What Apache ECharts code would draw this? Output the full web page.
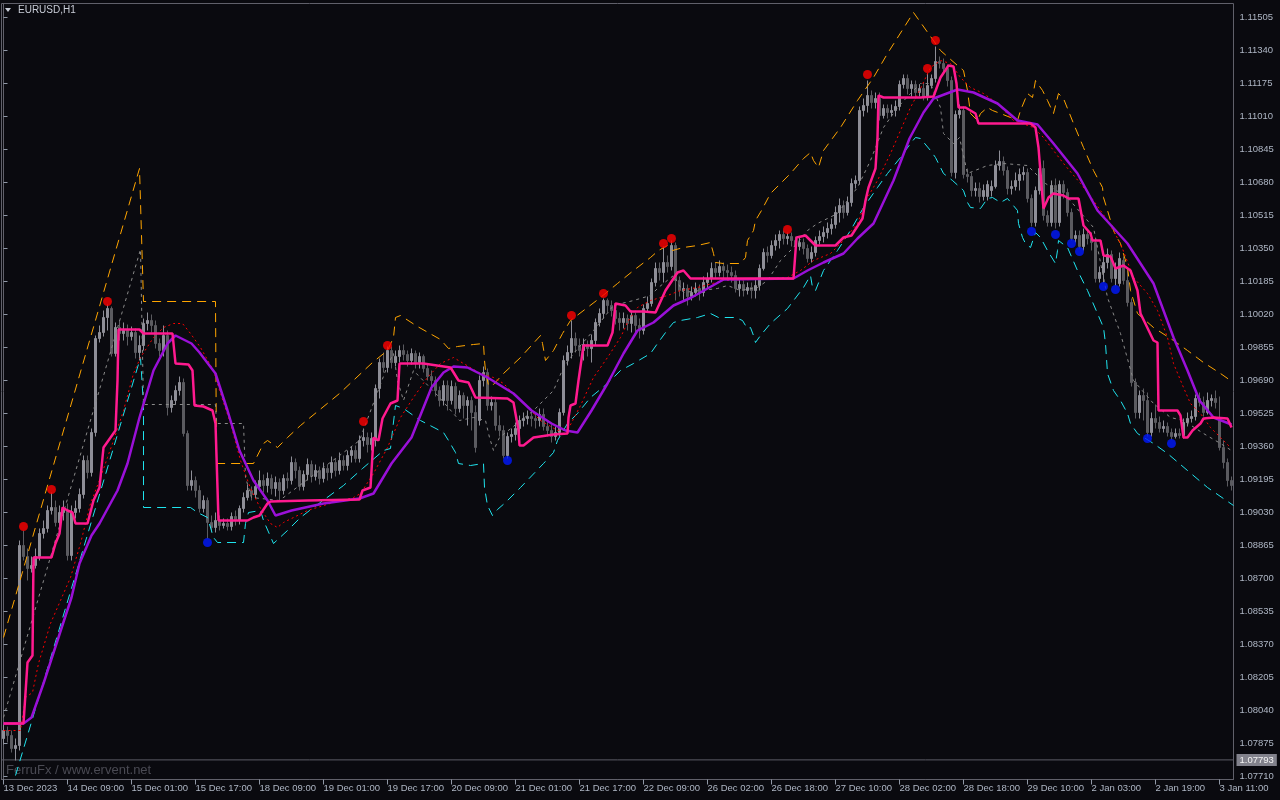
<!DOCTYPE html>
<html><head><meta charset="utf-8">
<script src="https://cdn.jsdelivr.net/npm/echarts@6/dist/echarts.min.js"></script>
<style>html,body{margin:0;padding:0;background:#0a0a0f;}#c{width:1280px;height:800px;}</style>
</head><body><div id="c"></div>
<script>
const symbolName = 'EURUSD,H1';
const watermark = 'FerruFx / www.ervent.net';
const bidPrice = 1.07793;
const tickLabels = ['13 Dec 2023','14 Dec 09:00','15 Dec 01:00','15 Dec 17:00','18 Dec 09:00','19 Dec 01:00','19 Dec 17:00','20 Dec 09:00','21 Dec 01:00','21 Dec 17:00','22 Dec 09:00','26 Dec 02:00','26 Dec 18:00','27 Dec 10:00','28 Dec 02:00','28 Dec 18:00','29 Dec 10:00','2 Jan 03:00','2 Jan 19:00','3 Jan 11:00'];
const yTicks = [1.07710,1.07875,1.08040,1.08205,1.08370,1.08535,1.08700,1.08865,1.09030,1.09195,1.09360,1.09525,1.09690,1.09855,1.10020,1.10185,1.10350,1.10515,1.10680,1.10845,1.11010,1.11175,1.11340,1.11505];

const opens = [
1.07900,1.07940,1.07915,1.07850,1.07865,1.08865,1.08810,1.08750,1.08765,1.08810,
1.08925,1.08950,1.09040,1.09055,1.08980,1.09030,1.09040,1.08815,1.09030,1.09050,
1.09120,1.09290,1.09230,1.09430,1.09900,1.09930,1.10005,1.10050,1.09825,1.09955,
1.09925,1.09940,1.09910,1.09930,1.09830,1.09865,1.09975,1.09990,1.09965,1.09875,
1.09840,1.09915,1.09555,1.09590,1.09640,1.09680,1.09425,1.09165,1.09190,1.09140,
1.09050,1.09090,1.08980,1.08955,1.08990,1.08965,1.08975,1.08960,1.09010,1.08990,
1.09050,1.09105,1.09140,1.09120,1.09160,1.09190,1.09165,1.09200,1.09150,1.09180,
1.09140,1.09200,1.09190,1.09280,1.09240,1.09160,1.09220,1.09270,1.09210,1.09240,
1.09200,1.09250,1.09230,1.09280,1.09240,1.09290,1.09265,1.09315,1.09340,1.09300,
1.09390,1.09405,1.09370,1.09390,1.09650,1.09780,1.09755,1.09840,1.09780,1.09810,
1.09840,1.09820,1.09790,1.09825,1.09780,1.09810,1.09750,1.09710,1.09690,1.09640,
1.09590,1.09665,1.09590,1.09660,1.09550,1.09615,1.09565,1.09590,1.09530,1.09490,
1.09690,1.09730,1.09565,1.09580,1.09465,1.09440,1.09315,1.09410,1.09420,1.09450,
1.09490,1.09500,1.09510,1.09500,1.09490,1.09520,1.09460,1.09440,1.09410,1.09430,
1.09530,1.09790,1.09830,1.09900,1.09865,1.09840,1.09870,1.09850,1.09890,1.09980,
1.10025,1.10090,1.10065,1.10040,1.10000,1.09980,1.10000,1.09975,1.10015,1.09965,
1.09940,1.10050,1.10075,1.10180,1.10250,1.10230,1.10280,1.10260,1.10365,1.10190,
1.10140,1.10150,1.10110,1.10130,1.10150,1.10130,1.10180,1.10200,1.10250,1.10230,
1.10260,1.10240,1.10230,1.10215,1.10150,1.10170,1.10140,1.10155,1.10140,1.10165,
1.10250,1.10330,1.10315,1.10365,1.10390,1.10420,1.10400,1.10410,1.10390,1.10360,
1.10380,1.10350,1.10300,1.10330,1.10390,1.10410,1.10430,1.10450,1.10470,1.10530,
1.10565,1.10530,1.10580,1.10675,1.10690,1.11040,1.11065,1.11115,1.11080,1.11100,
1.11015,1.11050,1.11030,1.11040,1.11060,1.11170,1.11200,1.11150,1.11170,1.11130,
1.11150,1.11110,1.11165,1.11200,1.11285,1.11275,1.11250,1.11190,1.10730,1.11020,
1.11040,1.10720,1.10710,1.10640,1.10650,1.10610,1.10610,1.10640,1.10660,1.10765,
1.10785,1.10740,1.10650,1.10660,1.10690,1.10720,1.10730,1.10600,1.10480,1.10640,
1.10750,1.10515,1.10480,1.10665,1.10480,1.10670,1.10630,1.10530,1.10400,1.10415,
1.10360,1.10420,1.10400,1.10380,1.10200,1.10230,1.10280,1.10320,1.10200,1.10175,
1.10290,1.10190,1.10080,1.09680,1.09530,1.09615,1.09590,1.09430,1.09500,1.09480,
1.09450,1.09460,1.09430,1.09410,1.09425,1.09415,1.09480,1.09500,1.09510,1.09600,
1.09580,1.09530,1.09590,1.09600,1.09490,1.09355,1.09280,1.09190];

const highs = [
1.07970,1.07960,1.07940,1.07900,1.08890,1.08940,1.08850,1.08810,1.08850,1.08950,
1.08990,1.09065,1.09130,1.09090,1.09065,1.09090,1.09075,1.09065,1.09090,1.09150,
1.09315,1.09315,1.09450,1.09915,1.09965,1.10040,1.10070,1.10060,1.09980,1.09990,
1.09980,1.09970,1.09960,1.09950,1.09915,1.10000,1.10030,1.10020,1.09990,1.09900,
1.09965,1.09940,1.09615,1.09665,1.09710,1.09700,1.09440,1.09240,1.09210,1.09165,
1.09115,1.09105,1.09015,1.09030,1.09015,1.09000,1.09000,1.09030,1.09040,1.09065,
1.09130,1.09170,1.09160,1.09190,1.09240,1.09220,1.09230,1.09220,1.09210,1.09200,
1.09220,1.09230,1.09310,1.09300,1.09260,1.09240,1.09300,1.09290,1.09270,1.09260,
1.09280,1.09270,1.09310,1.09300,1.09330,1.09315,1.09340,1.09360,1.09365,1.09415,
1.09450,1.09430,1.09430,1.09670,1.09800,1.09830,1.09860,1.09860,1.09840,1.09865,
1.09870,1.09840,1.09850,1.09840,1.09830,1.09820,1.09770,1.09740,1.09710,1.09660,
1.09690,1.09690,1.09690,1.09680,1.09640,1.09630,1.09610,1.09610,1.09565,1.09715,
1.09760,1.09750,1.09610,1.09600,1.09515,1.09465,1.09430,1.09450,1.09480,1.09515,
1.09530,1.09540,1.09540,1.09530,1.09550,1.09550,1.09490,1.09470,1.09460,1.09550,
1.09815,1.09865,1.09990,1.09930,1.09900,1.09900,1.09890,1.09920,1.10000,1.10050,
1.10100,1.10100,1.10090,1.10065,1.10030,1.10030,1.10020,1.10040,1.10030,1.10000,
1.10070,1.10110,1.10200,1.10280,1.10280,1.10360,1.10315,1.10390,1.10380,1.10210,
1.10180,1.10170,1.10160,1.10180,1.10170,1.10210,1.10230,1.10280,1.10280,1.10290,
1.10280,1.10270,1.10260,1.10240,1.10200,1.10190,1.10180,1.10180,1.10200,1.10270,
1.10350,1.10360,1.10390,1.10420,1.10440,1.10440,1.10430,1.10430,1.10410,1.10410,
1.10400,1.10370,1.10360,1.10410,1.10440,1.10460,1.10480,1.10500,1.10560,1.10600,
1.10590,1.10610,1.10700,1.10715,1.11060,1.11100,1.11190,1.11140,1.11130,1.11130,
1.11070,1.11070,1.11070,1.11090,1.11190,1.11220,1.11220,1.11190,1.11190,1.11170,
1.11180,1.11225,1.11220,1.11360,1.11310,1.11300,1.11270,1.11210,1.11040,1.11070,
1.11060,1.10750,1.10730,1.10680,1.10680,1.10670,1.10690,1.10690,1.10790,1.10840,
1.10810,1.10760,1.10690,1.10730,1.10750,1.10760,1.10750,1.10620,1.10660,1.10790,
1.10790,1.10540,1.10690,1.10700,1.10690,1.10690,1.10650,1.10550,1.10440,1.10440,
1.10450,1.10440,1.10430,1.10400,1.10260,1.10315,1.10350,1.10340,1.10280,1.10330,
1.10310,1.10240,1.10100,1.09700,1.09640,1.09650,1.09630,1.09530,1.09570,1.09510,
1.09490,1.09480,1.09450,1.09450,1.09450,1.09500,1.09530,1.09540,1.09620,1.09630,
1.09610,1.09630,1.09620,1.09640,1.09610,1.09390,1.09300,1.09210];

const lows = [
1.07870,1.07880,1.07830,1.07790,1.07840,1.08790,1.08690,1.08730,1.08750,1.08790,
1.08900,1.08930,1.09020,1.08960,1.08940,1.08990,1.08790,1.08790,1.09000,1.09030,
1.09100,1.09200,1.09210,1.09410,1.09880,1.09910,1.09940,1.09810,1.09810,1.09890,
1.09890,1.09865,1.09890,1.09800,1.09790,1.09840,1.09940,1.09930,1.09850,1.09810,
1.09810,1.09515,1.09530,1.09570,1.09615,1.09410,1.09140,1.09140,1.09105,1.09030,
1.09030,1.08900,1.08930,1.08930,1.08940,1.08950,1.08940,1.08940,1.08965,1.08970,
1.09030,1.09090,1.09090,1.09100,1.09140,1.09130,1.09130,1.09120,1.09110,1.09090,
1.09120,1.09150,1.09170,1.09200,1.09140,1.09140,1.09190,1.09180,1.09190,1.09170,
1.09180,1.09190,1.09200,1.09210,1.09220,1.09240,1.09240,1.09280,1.09280,1.09280,
1.09360,1.09330,1.09340,1.09360,1.09600,1.09730,1.09730,1.09750,1.09760,1.09780,
1.09790,1.09760,1.09770,1.09750,1.09750,1.09730,1.09690,1.09660,1.09610,1.09560,
1.09565,1.09540,1.09570,1.09520,1.09530,1.09500,1.09465,1.09440,1.09330,1.09465,
1.09660,1.09540,1.09540,1.09440,1.09410,1.09300,1.09300,1.09380,1.09390,1.09420,
1.09460,1.09470,1.09460,1.09450,1.09460,1.09440,1.09410,1.09380,1.09390,1.09410,
1.09515,1.09765,1.09800,1.09830,1.09810,1.09790,1.09810,1.09780,1.09865,1.09960,
1.10000,1.10030,1.10010,1.09970,1.09940,1.09950,1.09940,1.09930,1.09915,1.09900,
1.09920,1.10030,1.10060,1.10160,1.10190,1.10180,1.10230,1.10240,1.10090,1.10110,
1.10090,1.10065,1.10090,1.10110,1.10090,1.10110,1.10150,1.10180,1.10200,1.10210,
1.10200,1.10190,1.10180,1.10130,1.10110,1.10110,1.10120,1.10100,1.10100,1.10140,
1.10240,1.10280,1.10300,1.10340,1.10350,1.10370,1.10370,1.10360,1.10330,1.10340,
1.10320,1.10280,1.10280,1.10310,1.10370,1.10380,1.10400,1.10420,1.10450,1.10480,
1.10500,1.10515,1.10560,1.10650,1.10670,1.11010,1.11030,1.11050,1.11050,1.10990,
1.11000,1.11000,1.11010,1.11010,1.11040,1.11150,1.11120,1.11110,1.11100,1.11110,
1.11090,1.11090,1.11150,1.11180,1.11250,1.11220,1.11160,1.10710,1.10700,1.11000,
1.10700,1.10680,1.10610,1.10610,1.10580,1.10590,1.10590,1.10610,1.10650,1.10740,
1.10715,1.10620,1.10620,1.10640,1.10640,1.10690,1.10580,1.10460,1.10460,1.10620,
1.10490,1.10460,1.10460,1.10450,1.10460,1.10600,1.10510,1.10390,1.10380,1.10350,
1.10340,1.10370,1.10340,1.10180,1.10180,1.10180,1.10250,1.10180,1.10165,1.10160,
1.10170,1.10060,1.09660,1.09500,1.09500,1.09490,1.09410,1.09410,1.09450,1.09430,
1.09430,1.09410,1.09395,1.09400,1.09400,1.09400,1.09460,1.09480,1.09490,1.09560,
1.09510,1.09520,1.09560,1.09550,1.09340,1.09250,1.09160,1.09140];

const closes = [
1.07940,1.07915,1.07850,1.07865,1.08865,1.08810,1.08750,1.08765,1.08810,1.08925,
1.08950,1.09040,1.09055,1.08980,1.09030,1.09050,1.08815,1.09030,1.09050,1.09120,
1.09290,1.09230,1.09430,1.09900,1.09930,1.10005,1.10050,1.09825,1.09955,1.09925,
1.09940,1.09910,1.09930,1.09830,1.09865,1.09975,1.09990,1.09965,1.09875,1.09840,
1.09915,1.09555,1.09590,1.09640,1.09680,1.09425,1.09165,1.09190,1.09140,1.09050,
1.09090,1.08980,1.08955,1.08990,1.08965,1.08975,1.08960,1.09010,1.08990,1.09050,
1.09105,1.09140,1.09120,1.09160,1.09190,1.09165,1.09200,1.09150,1.09180,1.09140,
1.09200,1.09190,1.09280,1.09240,1.09160,1.09220,1.09270,1.09210,1.09240,1.09200,
1.09250,1.09230,1.09280,1.09240,1.09290,1.09265,1.09315,1.09340,1.09300,1.09390,
1.09405,1.09370,1.09400,1.09650,1.09780,1.09755,1.09840,1.09780,1.09810,1.09840,
1.09820,1.09790,1.09825,1.09780,1.09810,1.09750,1.09710,1.09690,1.09640,1.09590,
1.09665,1.09590,1.09660,1.09550,1.09615,1.09565,1.09590,1.09530,1.09355,1.09690,
1.09730,1.09565,1.09580,1.09465,1.09440,1.09315,1.09410,1.09420,1.09450,1.09490,
1.09500,1.09510,1.09500,1.09490,1.09520,1.09460,1.09440,1.09410,1.09430,1.09530,
1.09790,1.09830,1.09900,1.09865,1.09840,1.09870,1.09850,1.09890,1.09980,1.10025,
1.10090,1.10065,1.10040,1.10000,1.09980,1.10000,1.09975,1.10015,1.09965,1.09940,
1.10050,1.10075,1.10180,1.10250,1.10230,1.10280,1.10260,1.10365,1.10190,1.10140,
1.10150,1.10110,1.10130,1.10150,1.10130,1.10180,1.10200,1.10250,1.10230,1.10260,
1.10240,1.10230,1.10215,1.10150,1.10170,1.10140,1.10155,1.10140,1.10165,1.10250,
1.10330,1.10315,1.10365,1.10390,1.10420,1.10400,1.10410,1.10390,1.10360,1.10380,
1.10350,1.10300,1.10330,1.10390,1.10410,1.10430,1.10450,1.10470,1.10530,1.10565,
1.10530,1.10580,1.10675,1.10690,1.11040,1.11065,1.11115,1.11080,1.11100,1.11015,
1.11050,1.11030,1.11040,1.11060,1.11170,1.11200,1.11150,1.11170,1.11130,1.11150,
1.11110,1.11165,1.11200,1.11285,1.11275,1.11250,1.11190,1.10730,1.11020,1.11040,
1.10720,1.10710,1.10640,1.10650,1.10610,1.10640,1.10670,1.10660,1.10765,1.10785,
1.10740,1.10650,1.10660,1.10690,1.10720,1.10730,1.10600,1.10480,1.10640,1.10750,
1.10515,1.10480,1.10665,1.10480,1.10670,1.10630,1.10530,1.10400,1.10415,1.10360,
1.10420,1.10400,1.10380,1.10200,1.10230,1.10280,1.10320,1.10200,1.10250,1.10300,
1.10190,1.10080,1.09680,1.09530,1.09615,1.09590,1.09430,1.09500,1.09480,1.09450,
1.09460,1.09430,1.09410,1.09425,1.09415,1.09480,1.09500,1.09510,1.09600,1.09580,
1.09530,1.09590,1.09600,1.09580,1.09355,1.09280,1.09190,1.09165];

// indicator vertices: [bar index, price]
const slowLine = [[0,1.07975],[5,1.07975],[7,1.08005],[10,1.08175],[13.5,1.08390],[17,1.08605],[19,1.08775],[22,1.08915],[24,1.08975],[28.5,1.09140],[31,1.09275],[34,1.09505],[37.5,1.09740],[41,1.09875],[43,1.09915],[47,1.09875],[49,1.09830],[53,1.09725],[56,1.09540],[59,1.09340],[62.5,1.09190],[66,1.09090],[68,1.09015],[72,1.09040],[80,1.09075],[89,1.09100],[92.5,1.09125],[97,1.09275],[102,1.09405],[107,1.09655],[110,1.09730],[112.5,1.09760],[116,1.09755],[121,1.09705],[127.5,1.09625],[132,1.09540],[137,1.09475],[140.5,1.09440],[143.5,1.09430],[147,1.09540],[151,1.09675],[155,1.09825],[158.5,1.09940],[162.5,1.09980],[167.5,1.10065],[172,1.10105],[176,1.10150],[180,1.10195],[197.5,1.10200],[201,1.10240],[205,1.10280],[210,1.10325],[213.5,1.10400],[217.5,1.10475],[222.5,1.10690],[226.5,1.10900],[230,1.11030],[232.5,1.11100],[238.5,1.11145],[242.5,1.11130],[248.5,1.11075],[253.5,1.10990],[258.5,1.10970],[262.5,1.10875],[268.5,1.10725],[273.5,1.10540],[281,1.10375],[287.5,1.10175],[292.5,1.09905],[296,1.09740],[299,1.09590],[302.5,1.09505],[307,1.09470]];

const fastLine = [[0,1.07975],[5,1.07975],[6,1.08280],[7.25,1.08315],[7.5,1.08805],[12,1.08805],[13,1.08875],[14,1.08925],[14.75,1.09055],[16,1.09040],[17.25,1.09030],[18,1.08975],[21,1.08975],[22.5,1.09090],[24,1.09155],[24.75,1.09305],[25,1.09355],[28,1.09440],[28.5,1.09690],[28.75,1.09945],[34,1.09945],[35,1.09925],[42.25,1.09925],[43,1.09775],[46.25,1.09770],[47.25,1.09740],[47.75,1.09565],[50,1.09560],[52.25,1.09540],[53,1.09475],[53.75,1.08990],[61,1.08990],[62.5,1.09005],[64,1.09015],[66,1.09075],[66.75,1.09085],[76,1.09090],[89,1.09095],[89.75,1.09140],[91.75,1.09155],[92.5,1.09405],[93.75,1.09390],[94.75,1.09500],[96.75,1.09575],[98.5,1.09590],[99,1.09775],[105,1.09775],[111.75,1.09755],[113.75,1.09690],[116.25,1.09680],[118,1.09605],[126,1.09600],[127.5,1.09580],[128.75,1.09440],[129,1.09365],[130,1.09365],[132.5,1.09405],[137.5,1.09420],[141,1.09425],[141.25,1.09505],[141.75,1.09565],[143,1.09575],[143.75,1.09690],[145,1.09865],[151,1.09865],[152.25,1.09930],[153,1.10075],[155.5,1.10065],[156.75,1.10035],[160,1.10035],[163,1.10030],[165.5,1.10140],[168.5,1.10230],[170,1.10240],[171.75,1.10200],[197.5,1.10200],[198.25,1.10405],[200.5,1.10415],[203,1.10365],[208,1.10365],[210,1.10405],[212,1.10415],[214.75,1.10500],[215.5,1.10590],[216.25,1.10655],[218,1.10750],[218.5,1.10905],[218.75,1.11115],[220,1.11105],[229.25,1.11105],[232.5,1.11110],[234.25,1.11205],[236.25,1.11265],[237.5,1.11260],[238.25,1.11175],[238.75,1.11055],[240.5,1.11055],[243,1.11025],[243.75,1.10975],[256.75,1.10975],[258,1.10955],[258.75,1.10855],[259.75,1.10605],[260,1.10550],[261.25,1.10605],[262.5,1.10625],[265,1.10615],[266.25,1.10600],[268.75,1.10600],[270,1.10465],[271.75,1.10425],[272.25,1.10390],[274.25,1.10390],[275,1.10315],[276.75,1.10310],[278,1.10250],[280,1.10265],[281.75,1.10240],[283.5,1.10140],[284.25,1.10025],[287.5,1.09890],[288.5,1.09880],[288.75,1.09540],[293.5,1.09540],[294.25,1.09515],[295,1.09405],[296,1.09405],[297.25,1.09440],[299.25,1.09475],[300,1.09500],[302.5,1.09505],[306,1.09500],[307,1.09455]];

const signalLine = [[0,1.07940],[4.25,1.07940],[5.5,1.08105],[7.25,1.08130],[8.75,1.08275],[11.75,1.08475],[14.25,1.08590],[16.75,1.08705],[19.25,1.08875],[21.75,1.09075],[24.25,1.09205],[26,1.09305],[27.5,1.09390],[30,1.09540],[32.5,1.09725],[34.25,1.09805],[37.5,1.09905],[40,1.09955],[42.5,1.09975],[44.75,1.09975],[46.75,1.09925],[49.25,1.09855],[52.5,1.09740],[54.25,1.09625],[56.75,1.09475],[59.25,1.09290],[61.75,1.09150],[64.25,1.09050],[66.75,1.08975],[68.5,1.08955],[70,1.08980],[76,1.09040],[82.5,1.09080],[87.5,1.09105],[89.25,1.09125],[92.5,1.09225],[96,1.09355],[99.25,1.09505],[102.5,1.09605],[106,1.09705],[109.25,1.09775],[112.5,1.09805],[115,1.09775],[119.25,1.09725],[122.5,1.09705],[125,1.09675],[128.5,1.09605],[131,1.09555],[134.25,1.09490],[138.5,1.09440],[141.25,1.09450],[144.25,1.09565],[147.5,1.09705],[151,1.09805],[154.25,1.09905],[156.25,1.09990],[158.5,1.10055],[161.75,1.10090],[166,1.10115],[169.25,1.10140],[173.5,1.10155],[180,1.10190],[187.5,1.10195],[196,1.10205],[199.25,1.10240],[202.5,1.10290],[206.75,1.10325],[210,1.10390],[213.5,1.10475],[216,1.10605],[218.5,1.10690],[221.75,1.10825],[224.25,1.10940],[226.75,1.11055],[229.25,1.11150],[231.75,1.11255],[234.25,1.11290],[236.75,1.11275],[239.25,1.11205],[241.75,1.11155],[245,1.11125],[248.5,1.11075],[252.5,1.10990],[257.5,1.10955],[260,1.10905],[262.5,1.10840],[265,1.10775],[269.25,1.10675],[272.5,1.10590],[276,1.10490],[279.25,1.10375],[282.5,1.10205],[286,1.10125],[288.5,1.10040],[291,1.09905],[292.5,1.09775],[295,1.09655],[296.75,1.09575],[299.25,1.09525],[301.75,1.09455],[304.25,1.09405],[306.75,1.09355]];

const midBand = [[0,1.08005],[34.25,1.10345],[35,1.09570],[47.5,1.09570],[53,1.09570],[53.25,1.09475],[60,1.09475],[60.5,1.09205],[62,1.09105],[69,1.09090],[89,1.09390],[96,1.09765],[97.5,1.09825],[98.5,1.09690],[100,1.09590],[102.5,1.09740],[109,1.09605],[114,1.09490],[117.5,1.09505],[120.5,1.09490],[121.5,1.09405],[122.5,1.09340],[124,1.09405],[132.5,1.09540],[137.5,1.09640],[140,1.09755],[142.5,1.09825],[147.5,1.09940],[152.5,1.10065],[157.5,1.10090],[161.75,1.10115],[163.75,1.10155],[167.5,1.10215],[169.25,1.10155],[170,1.10130],[178.5,1.10150],[181,1.10165],[184.25,1.10140],[188.5,1.10155],[191,1.10190],[194.25,1.10290],[197.5,1.10355],[201,1.10440],[203.5,1.10475],[208.5,1.10525],[213.5,1.10655],[216.75,1.10790],[220,1.10955],[223.5,1.11055],[226.75,1.11125],[229.25,1.11175],[231.75,1.11175],[234.25,1.11055],[235,1.10925],[237.5,1.10875],[239,1.10905],[241,1.10725],[246,1.10765],[250,1.10775],[256,1.10765],[260.5,1.10675],[266,1.10605],[272.5,1.10455],[276,1.10105],[279.25,1.09925],[282.5,1.09690],[287.5,1.09575],[291.75,1.09505],[295,1.09490],[300,1.09425],[304.25,1.09375],[307,1.09340]];

const upperBand = [[0,1.08405],[34,1.10750],[35,1.10085],[53,1.10085],[53.25,1.09275],[62.5,1.09275],[65,1.09375],[66,1.09390],[68.5,1.09355],[71,1.09405],[74.25,1.09465],[84,1.09625],[92.25,1.09780],[96,1.09840],[97.5,1.09905],[98,1.10005],[99.25,1.10015],[103.5,1.09960],[109.25,1.09895],[111.25,1.09850],[113.5,1.09860],[115.5,1.09865],[117.5,1.09870],[120,1.09875],[120.25,1.09790],[120.5,1.09740],[121.25,1.09665],[122.25,1.09665],[125,1.09725],[129.25,1.09805],[134.25,1.09915],[134.75,1.09875],[135.5,1.09790],[137.5,1.09840],[139.75,1.09925],[141.75,1.09990],[146,1.10055],[149.25,1.10105],[153.5,1.10175],[157.5,1.10240],[161.75,1.10305],[163.75,1.10340],[166,1.10365],[167.25,1.10340],[170,1.10355],[173.5,1.10365],[176.75,1.10380],[177.5,1.10325],[178,1.10280],[180,1.10275],[184.25,1.10275],[185.5,1.10305],[186,1.10390],[187.5,1.10440],[188,1.10490],[189.5,1.10540],[191.75,1.10625],[196.75,1.10725],[200,1.10800],[201.75,1.10830],[202.5,1.10790],[203.75,1.10755],[205,1.10840],[209.25,1.10955],[213.5,1.11090],[217.5,1.11205],[221,1.11325],[227.5,1.11530],[234.25,1.11340],[238.5,1.11265],[240,1.11240],[240.5,1.11190],[241,1.11140],[241.75,1.11025],[243.5,1.10990],[244.25,1.11025],[246,1.11055],[247.25,1.11040],[249.25,1.11025],[251.75,1.11005],[253.5,1.10990],[254.25,1.11040],[256,1.11125],[257.25,1.11105],[258,1.11190],[259.75,1.11140],[261,1.11090],[262.5,1.11025],[263.75,1.11125],[265,1.11100],[267.5,1.10975],[270,1.10855],[272.5,1.10740],[274.75,1.10655],[275,1.10605],[276,1.10540],[276.75,1.10490],[277.5,1.10440],[278.5,1.10400],[279.25,1.10375],[281,1.10255],[281.75,1.10140],[283.5,1.10025],[287.5,1.09955],[292.5,1.09890],[296,1.09840],[300,1.09780],[304.25,1.09725],[306.75,1.09690]];

const lowerBand = [[3,1.07715],[34.25,1.09805],[35,1.09565],[35,1.09055],[46.75,1.09055],[48.5,1.09030],[51,1.09005],[52.5,1.08905],[53.5,1.08880],[60,1.08880],[60.5,1.08975],[61.25,1.09030],[64.25,1.09040],[65,1.08990],[67.5,1.08875],[71,1.08940],[74.25,1.09005],[77.5,1.09055],[85,1.09165],[89.75,1.09250],[95,1.09340],[96.75,1.09350],[97.25,1.09440],[98,1.09565],[100,1.09550],[104.25,1.09490],[110,1.09430],[111.25,1.09390],[113,1.09330],[113.75,1.09275],[116.75,1.09265],[120,1.09275],[120.25,1.09155],[121,1.09065],[122.25,1.09015],[123.5,1.09045],[125.5,1.09080],[129.25,1.09155],[135,1.09275],[137.5,1.09330],[138.5,1.09390],[141,1.09475],[143.5,1.09525],[146.75,1.09605],[151,1.09675],[154.25,1.09740],[157.5,1.09775],[161.75,1.09825],[163.5,1.09875],[166.25,1.09950],[167.5,1.09980],[169.25,1.09990],[173.5,1.10005],[176.75,1.10025],[178.75,1.10005],[183,1.10005],[184.75,1.09990],[185.5,1.09965],[186,1.09950],[186.75,1.09955],[187.5,1.09915],[188,1.09880],[189.25,1.09915],[191.75,1.09975],[196,1.10050],[200,1.10155],[201.75,1.10215],[202.25,1.10155],[203,1.10140],[205,1.10240],[208.5,1.10340],[211.75,1.10440],[215,1.10555],[218.5,1.10655],[221,1.10725],[224.25,1.10805],[226.75,1.10875],[228,1.10905],[229.25,1.10900],[231.75,1.10840],[233,1.10805],[235,1.10725],[237.25,1.10690],[240,1.10640],[241,1.10580],[241.75,1.10555],[244.25,1.10550],[246,1.10600],[247.25,1.10605],[249.25,1.10580],[251,1.10600],[253.5,1.10540],[253.75,1.10475],[254.75,1.10405],[255.5,1.10375],[256.75,1.10355],[258,1.10430],[259.25,1.10405],[261,1.10340],[263,1.10275],[263.5,1.10340],[263.75,1.10390],[266,1.10355],[268.5,1.10240],[271,1.10140],[273.5,1.10025],[275,1.09955],[275.5,1.09875],[276,1.09725],[277.5,1.09640],[279.25,1.09590],[281,1.09525],[281.75,1.09475],[283.5,1.09425],[287.5,1.09375],[291,1.09325],[296,1.09240],[301,1.09155],[307.5,1.09065]];

const topSignals = [[5,1.08960],[12,1.09145],[26,1.10085],[90,1.09485],[96,1.09865],[142,1.10015],[150,1.10125],[165,1.10375],[167,1.10400],[196,1.10445],[216,1.11220],[231,1.11250],[233,1.11390]];
const bottomSignals = [[51,1.08880],[126,1.09290],[257,1.10435],[263,1.10420],[267,1.10375],[269,1.10335],[275,1.10160],[278,1.10145],[286,1.09400],[292,1.09375]];

const barIdx = closes.map((_, i) => i);
const candles = closes.map((c, i) => [opens[i], c, lows[i], highs[i]]);
const bidLine = [[-0.5, bidPrice], [307.5, bidPrice]];

const chart = echarts.init(document.getElementById('c'), null, {renderer: 'canvas'});
const FONT = 'Liberation Sans, Arial, sans-serif';
const lineSeries = (name, data, color, width, type, z) => ({
  name, type: 'line', xAxisIndex: 1, data, symbol: 'none', showSymbol: false, silent: true,
  lineStyle: {color, width, type}, z
});

chart.setOption({
  animation: false,
  backgroundColor: '#0a0a0f',
  title: {text: symbolName, left: 18, top: 5, padding: 0,
    textStyle: {color: '#c8ccd6', fontSize: 10, fontWeight: 'normal', fontFamily: FONT}},
  graphic: [
    {type: 'polygon', shape: {points: [[5, 8], [11, 8], [8, 12]]}, style: {fill: '#c8ccd6'}},
    {type: 'text', left: 6, top: 764, style: {text: watermark, fill: '#4a4a53', fontSize: 13, fontFamily: FONT}}
  ],
  grid: {left: 1.5, right: 46.5, top: 3.5, bottom: 20.5, show: true, borderColor: '#60606a', borderWidth: 1, backgroundColor: 'transparent'},
  xAxis: [
    {type: 'category', data: barIdx, boundaryGap: true,
      axisLine: {show: true, lineStyle: {color: '#60606a'}},
      axisTick: {show: true, interval: 15, alignWithLabel: true, length: 5, lineStyle: {color: '#9098a6'}},
      axisLabel: {interval: 15, align: 'left', margin: 4, color: '#aeb6c4', fontSize: 9.5, fontFamily: FONT,
        formatter: (v) => tickLabels[Math.round(Number(v) / 16)] || ''},
      splitLine: {show: false}},
    {type: 'value', min: -0.5, max: 307.5, show: false}
  ],
  yAxis: {type: 'value', position: 'right', min: 1.07695, max: 1.11575,
    splitLine: {show: false},
    axisLine: {show: true, lineStyle: {color: '#60606a'}},
    axisTick: {show: true, length: 4, customValues: yTicks, lineStyle: {color: '#9098a6'}},
    axisLabel: {customValues: yTicks, formatter: (v) => v.toFixed(5), color: '#aeb6c4', fontSize: 9.5, fontFamily: FONT, margin: 6}},
  series: [
    {type: 'line', xAxisIndex: 1, data: bidLine, symbol: 'none', silent: true, z: 1,
      lineStyle: {color: '#5c5c66', width: 1},
      endLabel: {show: true, distance: 3, formatter: () => bidPrice.toFixed(5), color: '#f4f4f4',
        backgroundColor: '#82828c', padding: [1, 3, 1, 3], fontSize: 9.5, fontFamily: FONT}},
    {type: 'candlestick', data: candles, barWidth: 2, z: 2,
      itemStyle: {color: '#8e8e97', color0: '#5b5b60', borderColor: '#8e8e97', borderColor0: '#5b5b60', borderWidth: 1}},
    lineSeries('upper', upperBand, '#ffa500', 1, [9, 6], 3),
    lineSeries('lower', lowerBand, '#1fe4ee', 1, [9, 6], 3),
    lineSeries('mid', midBand, '#8a8a8a', 1, [3, 4], 3),
    lineSeries('signal', signalLine, '#ff0000', 1, [2, 3], 4),
    lineSeries('slow', slowLine, '#9a10d8', 2.5, 'solid', 5),
    lineSeries('fast', fastLine, '#ff1a8f', 2.5, 'solid', 6),
    {type: 'scatter', xAxisIndex: 1, data: topSignals, symbolSize: 9, itemStyle: {color: '#ff0000'}, z: 7, silent: true},
    {type: 'scatter', xAxisIndex: 1, data: bottomSignals, symbolSize: 9, itemStyle: {color: '#0018ff'}, z: 7, silent: true}
  ]
});
</script>
</body></html>
